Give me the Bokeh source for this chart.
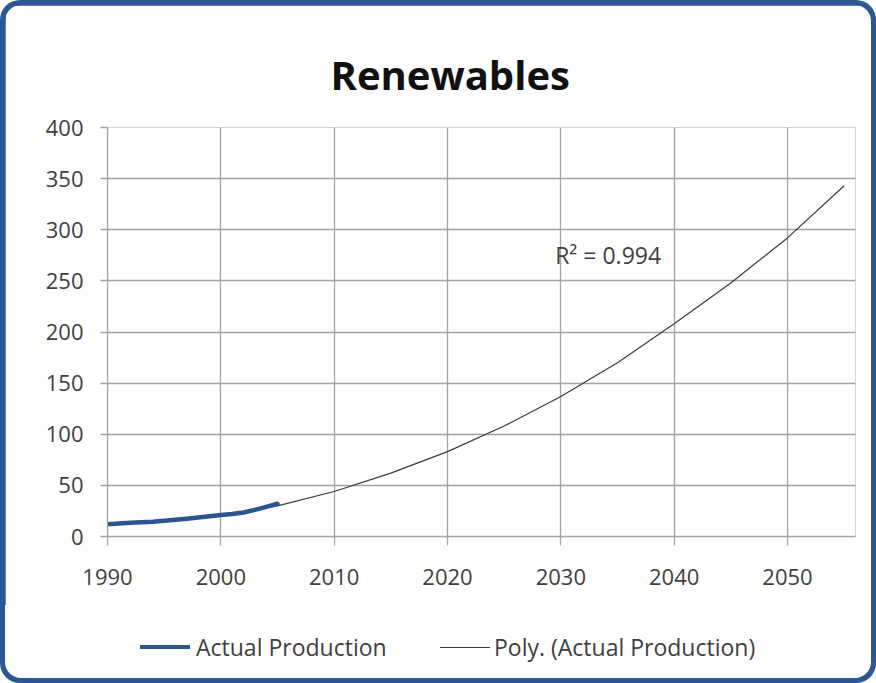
from bokeh.plotting import figure
from bokeh.layouts import column
from bokeh.models import Range1d, FixedTicker, Label, Div
from bokeh.embed import file_html
from bokeh.resources import INLINE

# ---- data ----
title_text = "Renewables"
r2_text = "R\u00b2 = 0.994"

actual_years = [1990, 1991, 1992, 1993, 1994, 1995, 1996, 1997,
                1998, 1999, 2000, 2001, 2002, 2003, 2004, 2005]
actual_values = [12.0, 12.8, 13.5, 14.0, 14.5, 15.5, 16.3, 17.3,
                 18.5, 19.8, 21.0, 22.0, 23.5, 26.0, 29.0, 32.0]

trend_years = [1990, 1995, 2000, 2005, 2010, 2015, 2020,
               2025, 2030, 2035, 2040, 2045, 2050, 2055]
trend_values = [13, 16, 21, 30, 44, 62, 83,
                108, 137, 170, 208, 248, 292, 343]

x_ticks = [1990, 2000, 2010, 2020, 2030, 2040, 2050]
y_ticks = [0, 50, 100, 150, 200, 250, 300, 350, 400]

series_names = ["Actual Production", "Poly. (Actual Production)"]

FONT = "Open Sans"
TXT = "#404040"
GRID = "#a3a3a3"
BLUE_LINE = "#2a5592"
TREND_LINE = "#3a3a3a"
B = 5          # width of the blue frame round the chart object
MAIN_H = 600   # height of the chart figure
LEG_H = 683 - 2 * B - MAIN_H

p = figure(width=876 - 2 * B, height=MAIN_H, output_backend="svg",
           toolbar_location=None,
           x_range=Range1d(1990, 2056), y_range=Range1d(0, 400),
           min_border_left=107 - B, min_border_right=876 - B - 855,
           min_border_top=127 - B, min_border_bottom=MAIN_H + B - 536)

p.styles = {"border-radius": "16px 16px 0 0", "overflow": "hidden"}
p.border_fill_color = "white"
p.background_fill_color = "white"
p.outline_line_color = None

# title
p.title.text = title_text
p.title.align = "left"
p.title.offset = 223
p.title.text_font = FONT
p.title.text_font_style = "bold"
p.title.text_font_size = "40px"
p.title.text_color = "#111111"
p.title.standoff = 52

# axes
p.xaxis.ticker = FixedTicker(ticks=x_ticks)
p.yaxis.ticker = FixedTicker(ticks=y_ticks)
for ax in (p.xaxis[0], p.yaxis[0]):
    ax.axis_line_color = GRID
    ax.axis_line_width = 1.3
    ax.major_tick_line_color = GRID
    ax.major_tick_line_width = 1.3
    ax.major_tick_in = 0
    ax.minor_tick_line_color = None
    ax.major_label_text_font = FONT
    ax.major_label_text_font_size = "22px"
    ax.major_label_text_color = TXT
p.xaxis.major_tick_out = 9
p.yaxis.major_tick_out = 7
p.xaxis.major_label_standoff = 23
p.yaxis.major_label_standoff = 17

p.xgrid.grid_line_color = GRID
p.ygrid.grid_line_color = GRID
p.xgrid.grid_line_width = 1.3
p.ygrid.grid_line_width = 1.3

# series
r_trend = p.line(trend_years, trend_values, line_color=TREND_LINE, line_width=1.2)
r_actual = p.line(actual_years, actual_values, line_color=BLUE_LINE, line_width=4.5,
                  line_cap="round", line_join="round")

r2 = Label(x=2029.5, y=275.5, text=r2_text, text_align="left",
           text_baseline="middle", text_font=FONT, text_font_size="23px",
           text_color=TXT)
p.add_layout(r2)

# legend strip under the chart (same line colours as the series)
cy = 647 - MAIN_H - B  # vertical centre of the legend row inside the strip
legend_html = (
    f'<div style="position:relative;width:{876 - 2 * B}px;height:{LEG_H}px;'
    f'font-family:\'{FONT}\';font-size:23px;color:{TXT};">'
    f'<span style="position:absolute;left:{140 - B}px;top:{cy - 2}px;width:50px;'
    f'height:4px;background:{BLUE_LINE};"></span>'
    f'<span style="position:absolute;left:{196 - B}px;top:{cy - 16}px;'
    f'line-height:32px;white-space:nowrap;">{series_names[0]}</span>'
    f'<span style="position:absolute;left:{440 - B}px;top:{cy}px;width:50px;'
    f'height:1px;background:{TREND_LINE};"></span>'
    f'<span style="position:absolute;left:{494 - B}px;top:{cy - 16}px;'
    f'line-height:32px;white-space:nowrap;">{series_names[1]}</span>'
    '</div>'
)
leg = Div(text=legend_html, width=876 - 2 * B, height=LEG_H,
          styles={"background-color": "white", "border-radius": "0 0 16px 16px",
                  "overflow": "hidden", "margin": "0", "padding": "0"})

page = column(p, leg, spacing=0,
              styles={"background-color": "#2b5797", "padding": f"{B}px",
                      "border-radius": "20px"})

open("out.html", "w").write(file_html(page, INLINE))
